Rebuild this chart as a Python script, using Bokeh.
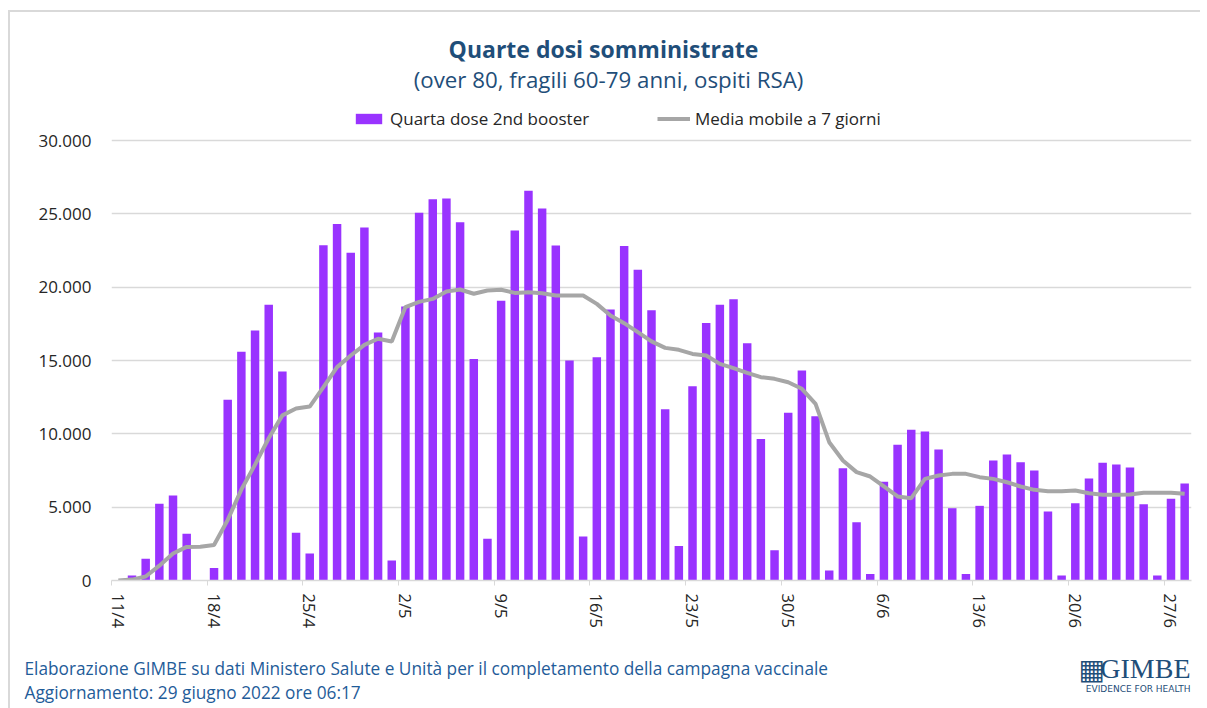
import math
from bokeh.plotting import figure
from bokeh.layouts import column
from bokeh.models import (ColumnDataSource, FixedTicker, Legend, LegendItem, Range1d, Label)
from bokeh.core.properties import value
from bokeh.embed import file_html
from bokeh.resources import INLINE

# ---- data ----
# daily fourth doses, from 11/4 to 28/6 (one value per day)
doses = [
    30, 340, 1480, 5230, 5800, 3180, 0,                # 11/4 - 17/4
    860, 12320, 15590, 17050, 18800, 14250, 3250,      # 18/4 - 24/4
    1840, 22860, 24300, 22340, 24070, 16910, 1360,     # 25/4 - 1/5
    18680, 25070, 26000, 26050, 24430, 15110, 2840,    # 2/5 - 8/5
    19070, 23860, 26570, 25360, 22840, 15000, 3000,    # 9/5 - 15/5
    15230, 18480, 22800, 21180, 18430, 11680, 2360,    # 16/5 - 22/5
    13250, 17550, 18800, 19180, 16180, 9640, 2070,     # 23/5 - 29/5
    11430, 14320, 11200, 680, 7660, 3980, 450,         # 30/5 - 5/6
    6730, 9250, 10270, 10160, 8930, 4930, 450,         # 6/6 - 12/6
    5090, 8180, 8590, 8070, 7500, 4700, 340,           # 13/6 - 19/6
    5270, 6950, 8020, 7910, 7700, 5200, 340,           # 20/6 - 26/6
    5570, 6610,                                        # 27/6 - 28/6
]
# 7-day moving average as drawn
moving_avg = [
    0, 60, 270, 1010, 1840, 2290, 2300,
    2420, 4130, 6200, 7900, 9700, 11260, 11730,
    11860, 13180, 14550, 15340, 16070, 16480, 16300,
    18640, 19000, 19200, 19700, 19840, 19550, 19770,
    19820, 19610, 19660, 19590, 19430, 19430, 19430,
    18860, 18070, 17545, 16930, 16300, 15860, 15730,
    15450, 15340, 14770, 14480, 14160, 13860, 13750,
    13520, 13070, 12045, 9430, 8180, 7390, 7090,
    6410, 5730, 5610, 6930, 7160, 7270, 7270,
    7045, 6930, 6700, 6410, 6180, 6090, 6090,
    6140, 5950, 5840, 5840, 5860, 5980, 5980,
    5980, 5910,
]
tick_labels = ["11/4", "18/4", "25/4", "2/5", "9/5", "16/5", "23/5",
               "30/5", "6/6", "13/6", "20/6", "27/6"]
y_ticks = [0, 5000, 10000, 15000, 20000, 25000, 30000]
y_tick_labels = ["0", "5.000", "10.000", "15.000", "20.000", "25.000", "30.000"]

title = "Quarte dosi somministrate"
subtitle = "(over 80, fragili 60-79 anni, ospiti RSA)"
series_bar = "Quarta dose 2nd booster"
series_line = "Media mobile a 7 giorni"
note1 = "Elaborazione GIMBE su dati Ministero Salute e Unità per il completamento della campagna vaccinale"
note2 = "Aggiornamento: 29 giugno 2022 ore 06:17"

# ---- styling ----
FONT = "Open Sans"
BAR = "#9933FF"
LINE = "#A6A6A6"
GRID = "#D9D9D9"
BLUE = "#1F4E79"
FOOT = "#1F5C99"
TXT = "#262626"
W = 1200

# ---- main chart: the frame reaches the top of the canvas so that the
# titles and the legend can sit inside it; values keep 0..30000 on 580..140 px
FRAME_H = 580
y_top = 30000 * FRAME_H / 440.0

n = len(doses)
idx = list(range(n))
src = ColumnDataSource(dict(x=idx, d=doses, m=moving_avg))

p = figure(width=W, height=650, output_backend="svg", toolbar_location=None,
           x_range=Range1d(-0.5, n - 0.5), y_range=Range1d(0, y_top),
           min_border_left=111, min_border_right=9, min_border_top=0,
           min_border_bottom=70)
p.outline_line_color = None
p.background_fill_color = None
p.border_fill_color = None

bars = p.vbar(x="x", top="d", width=0.62, source=src, fill_color=BAR, line_color=None)
ln = p.line(x="x", y="m", source=src, line_color=LINE, line_width=4)

label_pos = [7 * k for k in range(len(tick_labels))]
p.xaxis.ticker = FixedTicker(ticks=label_pos, minor_ticks=[t - 0.5 for t in label_pos])
p.xaxis.major_label_overrides = {t: s for t, s in zip(label_pos, tick_labels)}
p.xaxis.major_label_orientation = -math.pi / 2
p.xaxis.major_tick_line_color = None
p.xaxis.minor_tick_line_color = GRID
p.xaxis.minor_tick_in = 0
p.xaxis.minor_tick_out = 5
p.xaxis.axis_line_color = GRID
p.xaxis.axis_line_width = 1.5
p.xaxis.major_label_text_font = FONT
p.xaxis.major_label_text_font_size = "16.5px"
p.xaxis.major_label_text_color = TXT
p.xaxis.major_label_standoff = 7
p.xgrid.grid_line_color = None

p.yaxis.ticker = FixedTicker(ticks=y_ticks)
p.yaxis.major_label_overrides = {t: s for t, s in zip(y_ticks, y_tick_labels)}
p.yaxis.axis_line_color = None
p.yaxis.major_tick_line_color = None
p.yaxis.minor_tick_line_color = None
p.yaxis.major_label_text_font = FONT
p.yaxis.major_label_text_font_size = "17px"
p.yaxis.major_label_text_color = TXT
p.yaxis.major_label_standoff = 14
p.ygrid.grid_line_color = GRID
p.ygrid.grid_line_width = 1.5

for item_label, rend, vx in [(series_bar, bars, 241), (series_line, ln, 546)]:
    lg = Legend(items=[LegendItem(label=item_label, renderers=[rend])],
                location=(vx, 450), orientation="horizontal",
                glyph_width=33, glyph_height=13, label_standoff=5,
                padding=0, margin=0, border_line_color=None,
                background_fill_alpha=0,
                label_text_font=FONT, label_text_font_size="17px",
                label_text_color=TXT)
    p.add_layout(lg)


def lab(x, y, s, size, style="normal"):
    # screen units, measured from the frame's bottom-left corner
    p.add_layout(Label(x=x, y=y, x_units="screen", y_units="screen", text=s,
                       text_font=FONT, text_font_size=size, text_color=BLUE,
                       text_align="center", text_baseline="middle",
                       text_font_style=style))


lab(492, 532, title, "23px", "bold")
lab(497, 501, subtitle, "22.3px")

# ---- footer ----
ftr = figure(width=W, height=58, x_range=Range1d(0, W), y_range=Range1d(708, 650),
             x_axis_type=None, y_axis_type=None, output_backend="svg",
             toolbar_location=None, min_border=0)
ftr.grid.visible = False
ftr.outline_line_color = None
ftr.background_fill_color = None
ftr.border_fill_color = None
for f in (p, ftr):
    try:
        f.frame_align = False
    except Exception:
        pass


def txt(f, x, y, s, size, color, align="left", font=FONT):
    f.text(x=[x], y=[y], text=[s], text_font=value(font), text_font_size=size,
           text_color=color, text_align=align, text_baseline="middle")


txt(ftr, 24, 668, note1, "17.25px", FOOT)
txt(ftr, 24, 692, note2, "17.25px", FOOT)
txt(ftr, 1078, 669, "\u25A6", "28px", BLUE, font="DejaVu Sans")
txt(ftr, 1190, 668, "GIMBE", "28px", BLUE, "right", font="Liberation Serif")
txt(ftr, 1190, 688, "EVIDENCE FOR HEALTH", "9px", BLUE, "right", font="DejaVu Sans")

# light grey frame of the original slide (top and left edges only)
grad = "linear-gradient(#D9D9D9, #D9D9D9)"
frame_styles = {
    "background-color": "white",
    "background-image": grad + ", " + grad,
    "background-position": "8px 10px, 8px 10px",
    "background-size": "1192px 2px, 2px 698px",
    "background-repeat": "no-repeat, no-repeat",
}
layout = column(p, ftr, spacing=0, width=W, height=708, styles=frame_styles)
open("out.html", "w").write(file_html(layout, INLINE))
